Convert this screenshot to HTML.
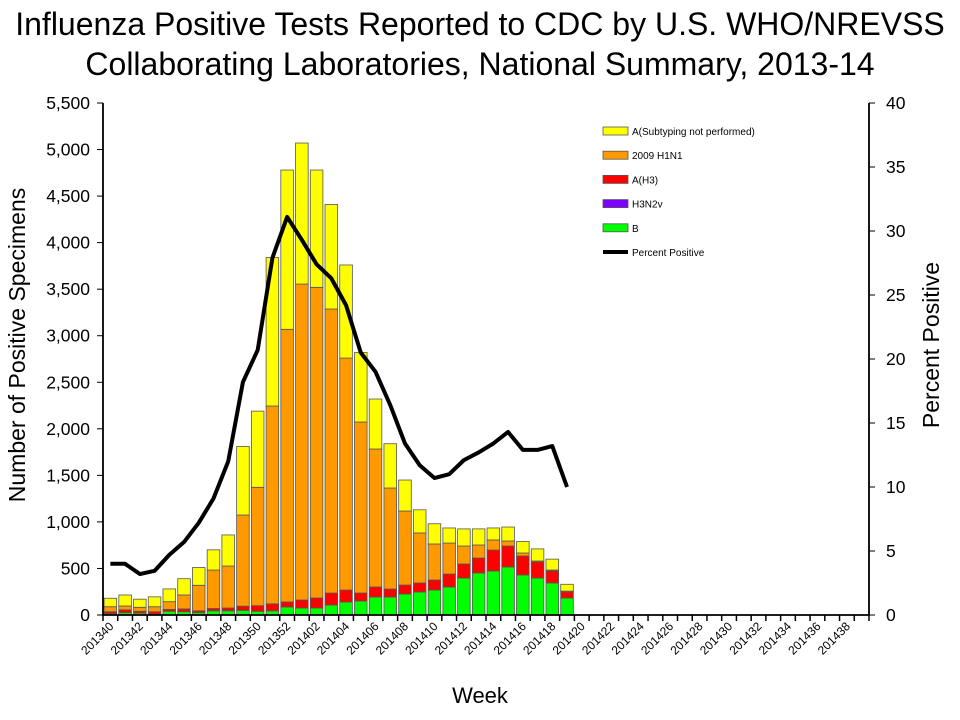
<!DOCTYPE html>
<html><head><meta charset="utf-8"><style>
body{margin:0;background:#fff;font-family:"Liberation Sans",Arial,sans-serif}
svg{display:block}
</style></head><body>
<svg id="c" width="960" height="720" viewBox="0 0 960 720" xmlns="http://www.w3.org/2000/svg" font-family="Liberation Sans, Arial, sans-serif">
<text x="480" y="35" font-size="32" text-anchor="middle">Influenza Positive Tests Reported to CDC by U.S. WHO/NREVSS</text>
<text x="480" y="75" font-size="32" text-anchor="middle">Collaborating Laboratories, National Summary, 2013-14</text>
<text transform="translate(25,345) rotate(-90)" font-size="23" text-anchor="middle">Number of Positive Specimens</text>
<text transform="translate(939,345) rotate(-90)" font-size="23" text-anchor="middle">Percent Positive</text>
<text x="480" y="703" font-size="22" text-anchor="middle">Week</text>
<g id="plot"></g>
</svg>
<script>
const weeks=[];for(let w=40;w<=52;w++)weeks.push('2013'+w);for(let w=1;w<=39;w++)weeks.push('2014'+String(w).padStart(2,'0'));
const seriesB=[15,25,20,10,40,35,25,45,45,50,40,45,86,75,75,107,140,150,193,193,226,247,268,301,397,451,473,516,430,397,344,183];
const seriesH3=[20,30,20,25,20,30,20,25,30,45,60,75,54,86,108,129,128,86,108,86,96,97,108,139,151,161,225,225,204,172,129,64];
const seriesH3N2v=[0,0,0,0,0,0,0,0,0,0,0,0,0,0,0,0,0,0,0,0,0,0,0,0,0,0,0,0,0,0,0,0];
const seriesH1N1=[54,42,43,54,83,150,274,413,451,979,1272,2125,2929,3394,3337,3051,2492,1837,1482,1085,795,537,387,333,193,140,108,54,32,11,10,10];
const seriesUnsub=[91,118,87,106,137,175,191,217,334,736,818,1595,1711,1515,1260,1123,1000,747,537,476,333,249,217,162,184,173,129,150,124,130,117,73];
const percentPositive=[4.0,4.0,3.2,3.45,4.7,5.7,7.2,9.1,12.0,18.2,20.7,27.9,31.1,29.3,27.4,26.3,24.2,20.5,19.0,16.4,13.4,11.7,10.7,11.0,12.1,12.7,13.4,14.3,12.9,12.9,13.2,10.0];
const leftTicks=[0,500,1000,1500,2000,2500,3000,3500,4000,4500,5000,5500];
const rightTicks=[0,5,10,15,20,25,30,35,40];
const L=103,R=869,T=103,B=615,slot=(R-L)/52;
const y=v=>B-(v/5500)*(B-T), y2=v=>B-(v/40)*(B-T), xc=i=>L+slot*(i+0.5);
const NS='http://www.w3.org/2000/svg',g=document.getElementById('plot');
function mk(t,a,p){const e=document.createElementNS(NS,t);for(const k in a)e.setAttribute(k,a[k]);(p||g).appendChild(e);return e;}
const series=[[seriesB,'#00ff00','bar-b'],[seriesH3,'#ff0000','bar-h3'],[seriesH3N2v,'#8000ff','bar-h3n2v'],[seriesH1N1,'#ff9900','bar-h1n1'],[seriesUnsub,'#ffff00','bar-a-unsubtyped']];
for(let i=0;i<seriesB.length;i++){let acc=0;for(const [arr,col,nm] of series){const v=arr[i];if(v<=0)continue;const r=mk('rect',{x:xc(i)-6.3,y:y(acc+v),width:12.6,height:y(acc)-y(acc+v),fill:col,stroke:'#555','stroke-width':0.8});


acc+=v;}}
let d='';percentPositive.forEach((p,i)=>{d+=(i?'L':'M')+xc(i)+' '+y2(p);});
const ln=mk('path',{d:d,fill:'none',stroke:'#000','stroke-width':4,'stroke-linejoin':'round'});


const ax=mk('path',{d:`M${L} ${T}V${B}H${R}V${T}`,fill:'none',stroke:'#000','stroke-width':1.8});


leftTicks.forEach(v=>{mk('line',{x1:L-6,x2:L,y1:y(v),y2:y(v),stroke:'#000'});const t=mk('text',{x:L-13,y:y(v)+6,'font-size':17.5,'text-anchor':'end'});t.textContent=v.toLocaleString('en-US');

});
rightTicks.forEach(v=>{mk('line',{x1:R,x2:R+6,y1:y2(v),y2:y2(v),stroke:'#000'});const t=mk('text',{x:R+17,y:y2(v)+6,'font-size':17.5});t.textContent=v;

});
for(let i=0;i<=52;i++)mk('line',{x1:L+slot*i,x2:L+slot*i,y1:B,y2:B+6,stroke:'#000','stroke-width':1.5});
weeks.forEach((w,i)=>{if(i%2)return;const t=mk('text',{transform:`translate(${xc(i)+4},${B+12}) rotate(-45)`,'font-size':12,'text-anchor':'end'});t.textContent=w;

});
const leg=[['A(Subtyping not performed)','#ffff00'],['2009 H1N1','#ff9900'],['A(H3)','#ff0000'],['H3N2v','#8000ff'],['B','#00ff00'],['Percent Positive',null]];
leg.forEach(([lab,col],k)=>{const yy=131+k*24.2;const gg=mk('g',{});
if(col)mk('rect',{x:603,y:yy-4,width:25,height:8,fill:col,stroke:'#555','stroke-width':0.8},gg);else mk('line',{x1:603,x2:628,y1:yy,y2:yy,stroke:'#000','stroke-width':4},gg);
const t=mk('text',{x:632,y:yy+4,'font-size':10},gg);t.textContent=lab;});
</script>
</body></html>
